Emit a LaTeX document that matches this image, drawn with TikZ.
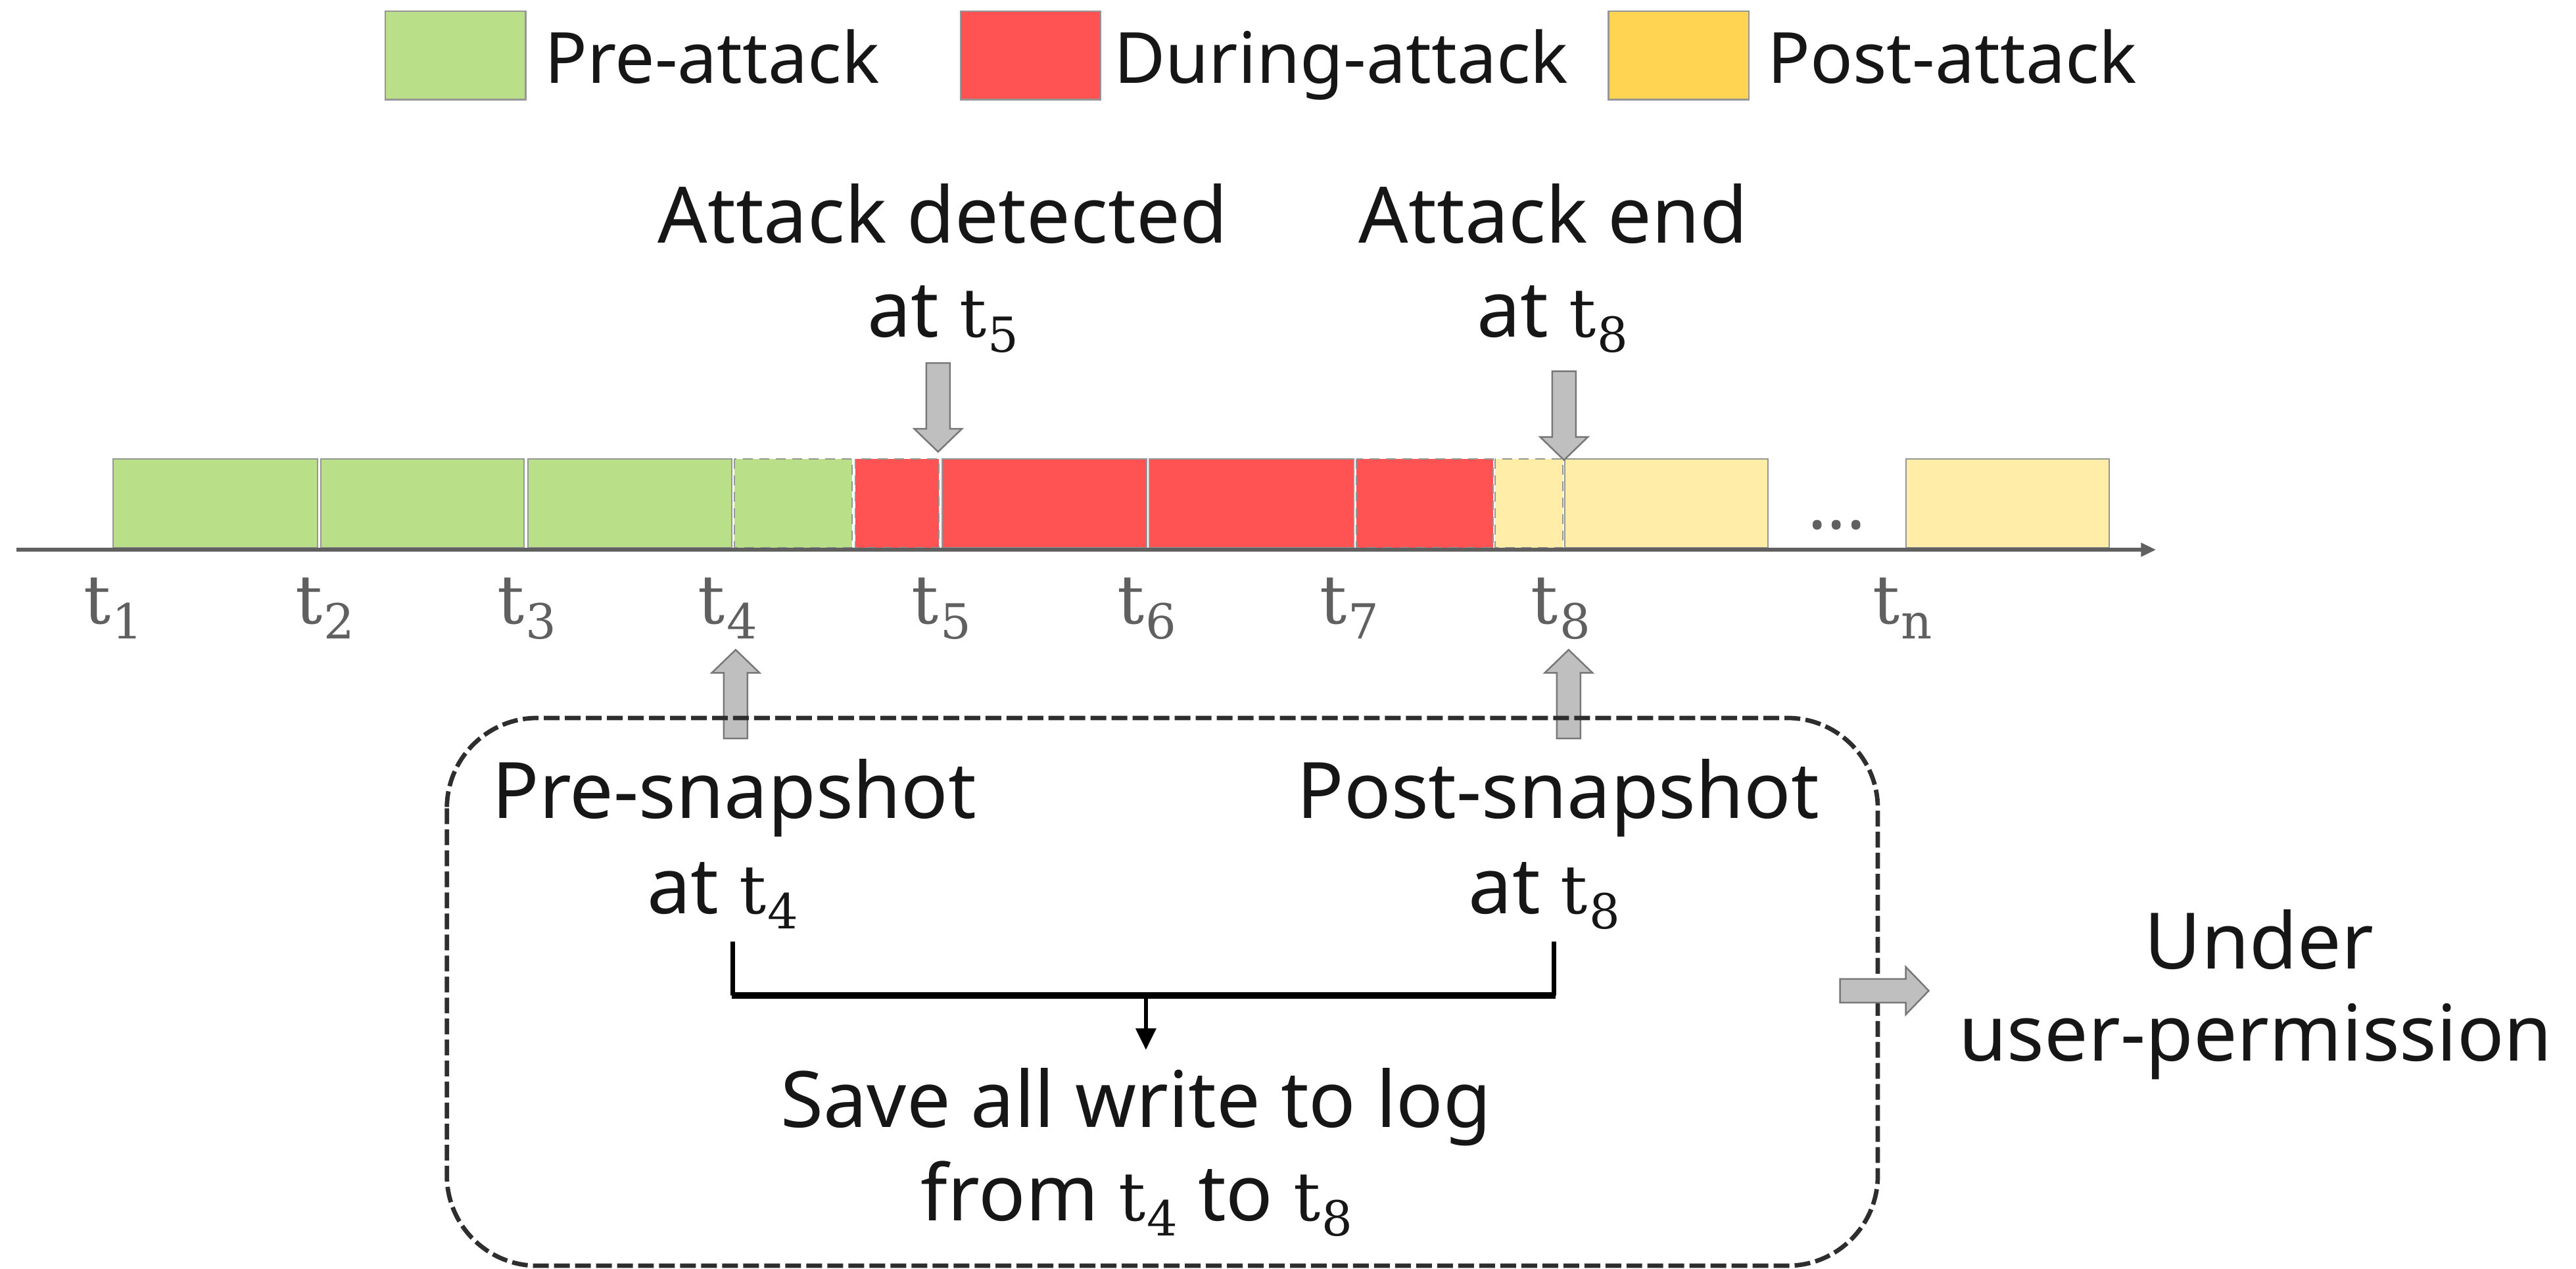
\documentclass[tikz,border=0pt]{standalone}
\usepackage{fontspec}
\setsansfont{Noto Sans}
\newfontfamily\tfont{DejaVu Serif}
\usetikzlibrary{arrows.meta}

\definecolor{pregreen}{RGB}{185,224,137}
\definecolor{durred}{RGB}{255,82,82}
\definecolor{postyellow}{RGB}{255,212,82}
\definecolor{postlight}{RGB}{255,237,168}
\definecolor{ink}{RGB}{22,22,22}
\definecolor{axisgray}{RGB}{96,96,96}
\definecolor{segedge}{RGB}{150,150,150}
\definecolor{arrowfill}{RGB}{191,191,191}
\definecolor{arrowedge}{RGB}{120,120,120}
\definecolor{dashcol}{RGB}{46,46,46}

% time stamp t_i set in a serif face with a large, lowered index
\newcommand\tsub[1]{{\tfont\fontsize{20.5}{24}\selectfont t\kern0.02em\raisebox{-4.6pt}{\fontsize{14.7}{16}\selectfont #1}}}

\tikzset{
  txt/.style={font=\sffamily\fontsize{23.7}{28.5}\selectfont, text=ink, inner sep=0pt, anchor=base},
  legtxt/.style={font=\sffamily\fontsize{21.5}{26}\selectfont, text=ink, inner sep=0pt, anchor=base west},
  tlab/.style={text=axisgray, inner sep=0pt, anchor=base},
  legbox/.style={draw=segedge, line width=0.5pt},
  seg/.style={draw=segedge, line width=0.4pt},
  blockarrow/.style={fill=arrowfill, draw=arrowedge, line width=0.5pt, line join=miter},
  dashbox/.style={draw=dashcol, line width=1.35pt, dash pattern=on 4.8pt off 1.6pt, rounded corners=27.5pt},
  pics/garrow/.style={code={
    \draw[blockarrow] (0,-7.2) -- (40,-7.2) -- (40,-14.5) -- (54,0) -- (40,14.5) -- (40,7.2) -- (0,7.2) -- cycle;}}
}

\begin{document}
\begin{tikzpicture}[x=0.5pt,y=-0.5pt]
\useasboundingbox (0,0) rectangle (1568,772);

% legend
\filldraw[legbox, fill=pregreen]   (234.5,6.7) rectangle (320,60.7);
\filldraw[legbox, fill=durred]     (584.7,6.7) rectangle (670,60.7);
\filldraw[legbox, fill=postyellow] (979,6.7)   rectangle (1064.5,60.7);
\node[legtxt] (lpre)  at (331,50.7)    {Pre-attack};
\node[legtxt] (ldur)  at (677.6,50.7)  {During-attack};
\node[legtxt] (lpost) at (1075.5,50.7) {Post-attack};

% time slots
\foreach \a/\b/\c/\d in {69/193.3/pregreen/solid, 195.4/319/pregreen/solid, 321.3/445.6/pregreen/solid, 447/518.6/pregreen/densely dashed,
  520.7/571.4/durred/densely dashed, 573.5/698/durred/solid, 699.6/824/durred/solid, 825.7/908.7/durred/densely dashed,
  910/951.3/postlight/densely dashed, 952.3/1076/postlight/solid, 1160/1284/postlight/solid}
  \filldraw[seg, fill=\c, \d] (\a,279.5) rectangle (\b,333.5);

% time axis
\coordinate (ax0) at (10,334.6);
\coordinate (ax1) at (1312.4,334.6);
\draw[draw=axisgray, line width=1.2pt, -{Triangle[length=4.6pt,width=4pt]}] (ax0) -- (ax1);
\node[font=\sffamily\bfseries\fontsize{22}{28}\selectfont, text=axisgray, inner sep=0pt, anchor=base] (dots) at (1118,322) {...};

% time stamps
\foreach \x/\n [count=\i] in {69/1, 198/2, 320.7/3, 443/4, 573/5, 698/6, 821.5/7, 950/8, 1158/n}
  \node[tlab] (t\i) at (\x,379.6) {\tsub{\n}};

% attack events
\node[txt] (det1) at (574,148)   {Attack detected};
\node[txt] (det2) at (574,205)   {at \tsub{5}};
\node[txt] (end1) at (945.5,148) {Attack end};
\node[txt] (end2) at (945,205)   {at \tsub{8}};
\pic[rotate=-90] (adet) at (571,221) {garrow};
\pic[rotate=-90] (aend) at (952,226) {garrow};

% snapshot pointers
\pic[rotate=90] (apre)  at (447.8,449.5) {garrow};
\pic[rotate=90] (apost) at (954.8,449.5) {garrow};

% snapshot group
\draw[dashbox] (272,437) rectangle (1143,770.4);
\node[txt] (pre1)  at (447,498)   {Pre-snapshot};
\node[txt] (pre2)  at (440,556)   {at \tsub{4}};
\node[txt] (post1) at (948.5,498) {Post-snapshot};
\node[txt] (post2) at (940,556)   {at \tsub{8}};

% bracket merging both snapshots
\coordinate (bl) at (446,573);
\coordinate (br) at (946,573);
\coordinate (bm) at (697.5,606);
\coordinate (bt) at (697.5,639);
\draw[line width=1.4pt] (bl) -- (446,606);
\draw[line width=1.4pt] (br) -- (946,606);
\draw[line width=2pt] (445.3,606) -- (946.7,606);
\draw[line width=1.2pt, -{Triangle[length=6.5pt,width=6pt]}] (bm) -- (bt);

\node[txt] (save1) at (691.5,686) {Save all write to log};
\node[txt] (save2) at (692,743)   {from \tsub{4} to \tsub{8}};

% permission note
\pic (aperm) at (1120,603) {garrow};
\node[txt] (perm1) at (1375,589.6) {Under};
\node[txt] (perm2) at (1373,645.7) {user-permission};
\end{tikzpicture}
\end{document}
